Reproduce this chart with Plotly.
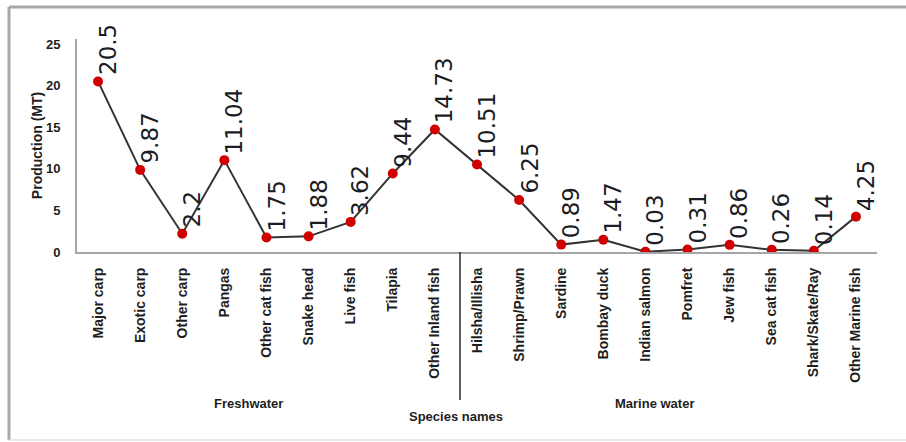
import plotly.graph_objects as go

# Fish production by species (MT)
species = [
    "Major carp", "Exotic carp", "Other carp", "Pangas", "Other cat fish",
    "Snake head", "Live fish", "Tilapia", "Other Inland fish",
    "Hilsha/Illisha", "Shrimp/Prawn", "Sardine", "Bombay duck",
    "Indian salmon", "Pomfret", "Jew fish", "Sea cat fish",
    "Shark/Skate/Ray", "Other Marine fish",
]
production = [
    20.5, 9.87, 2.2, 11.04, 1.75, 1.88, 3.62, 9.44, 14.73,
    10.51, 6.25, 0.89, 1.47, 0.03, 0.31, 0.86, 0.26, 0.14, 4.25,
]
value_labels = [
    "20.5", "9.87", "2.2", "11.04", "1.75", "1.88", "3.62", "9.44", "14.73",
    "10.51", "6.25", "0.89", "1.47", "0.03", "0.31", "0.86", "0.26", "0.14", "4.25",
]
y_ticks = [0, 5, 10, 15, 20, 25]
groups = ["Freshwater", "Marine water"]
n_fresh = 9

W, H = 906, 442
L, R, T, B = 77, 29, 39, 190
plot_w, plot_h = W - L - R, H - T - B


def px_x(x):
    return (x - L) / plot_w


def px_y(y):
    return (H - B - y) / plot_h


fig = go.Figure()
fig.add_trace(go.Scatter(
    x=species, y=production, mode="lines+markers",
    line=dict(color="#333333", width=2),
    marker=dict(color="#d00000", size=10),
    hoverinfo="x+y", showlegend=False,
))

annotations = []
for s, v, t in zip(species, production, value_labels):
    annotations.append(dict(
        x=s, y=v, xref="x", yref="y", text=t, showarrow=False,
        textangle=-90, xanchor="center", yanchor="bottom",
        xshift=10, yshift=5, borderpad=0,
        font=dict(family="DejaVu Sans", size=23, color="#1c1c24"),
    ))

bold = dict(family="Liberation Sans", size=13, color="#1e1e1e")
annotations += [
    dict(x=px_x(248), y=px_y(403), xref="paper", yref="paper",
         text="<b>" + groups[0] + "</b>", showarrow=False,
         xanchor="center", yanchor="middle", font=bold),
    dict(x=px_x(654), y=px_y(403), xref="paper", yref="paper",
         text="<b>" + groups[1] + "</b>", showarrow=False,
         xanchor="center", yanchor="middle", font=bold),
    dict(x=px_x(456), y=px_y(417), xref="paper", yref="paper",
         text="<b>Species names</b>", showarrow=False,
         xanchor="center", yanchor="middle", font=bold),
]

shapes = [
    # divider between freshwater and marine species
    dict(type="line", xref="paper", yref="paper", x0=px_x(460), x1=px_x(460),
         y0=0, y1=px_y(400), line=dict(color="#2a2a2a", width=1.5)),
    # frame around the chart
    dict(type="line", xref="paper", yref="paper", x0=px_x(9), x1=px_x(906),
         y0=px_y(7), y1=px_y(7), line=dict(color="#a8a8a8", width=3)),
    dict(type="line", xref="paper", yref="paper", x0=px_x(9), x1=px_x(9),
         y0=px_y(7), y1=px_y(440), line=dict(color="#a8a8a8", width=3)),
    dict(type="line", xref="paper", yref="paper", x0=px_x(9), x1=px_x(906),
         y0=px_y(440), y1=px_y(440), line=dict(color="#e2e2e2", width=1.5)),
]

fig.update_layout(
    width=W, height=H,
    margin=dict(l=L, r=R, t=T, b=B),
    paper_bgcolor="white", plot_bgcolor="white",
    annotations=annotations, shapes=shapes,
    xaxis=dict(
        type="category", range=[-0.5, len(species) - 0.5],
        showline=True, linecolor="#a6a6a6", linewidth=2,
        showgrid=False, zeroline=False, ticks="",
        tickangle=-90, ticklabelstandoff=8,
        tickfont=dict(family="Liberation Sans", size=14, color="#1e1e1e", weight="bold"),
    ),
    yaxis=dict(
        range=[0, 25.6], tickvals=y_ticks,
        showline=True, linecolor="#a6a6a6", linewidth=2,
        showgrid=False, zeroline=False, ticks="",
        ticklabelstandoff=12,
        tickfont=dict(family="Liberation Sans", size=13, color="#1e1e1e", weight="bold"),
        title=dict(text="<b>Production (MT)</b>", standoff=0,
                   font=dict(family="Liberation Sans", size=14, color="#1e1e1e")),
    ),
)

fig.write_html("out.html")
